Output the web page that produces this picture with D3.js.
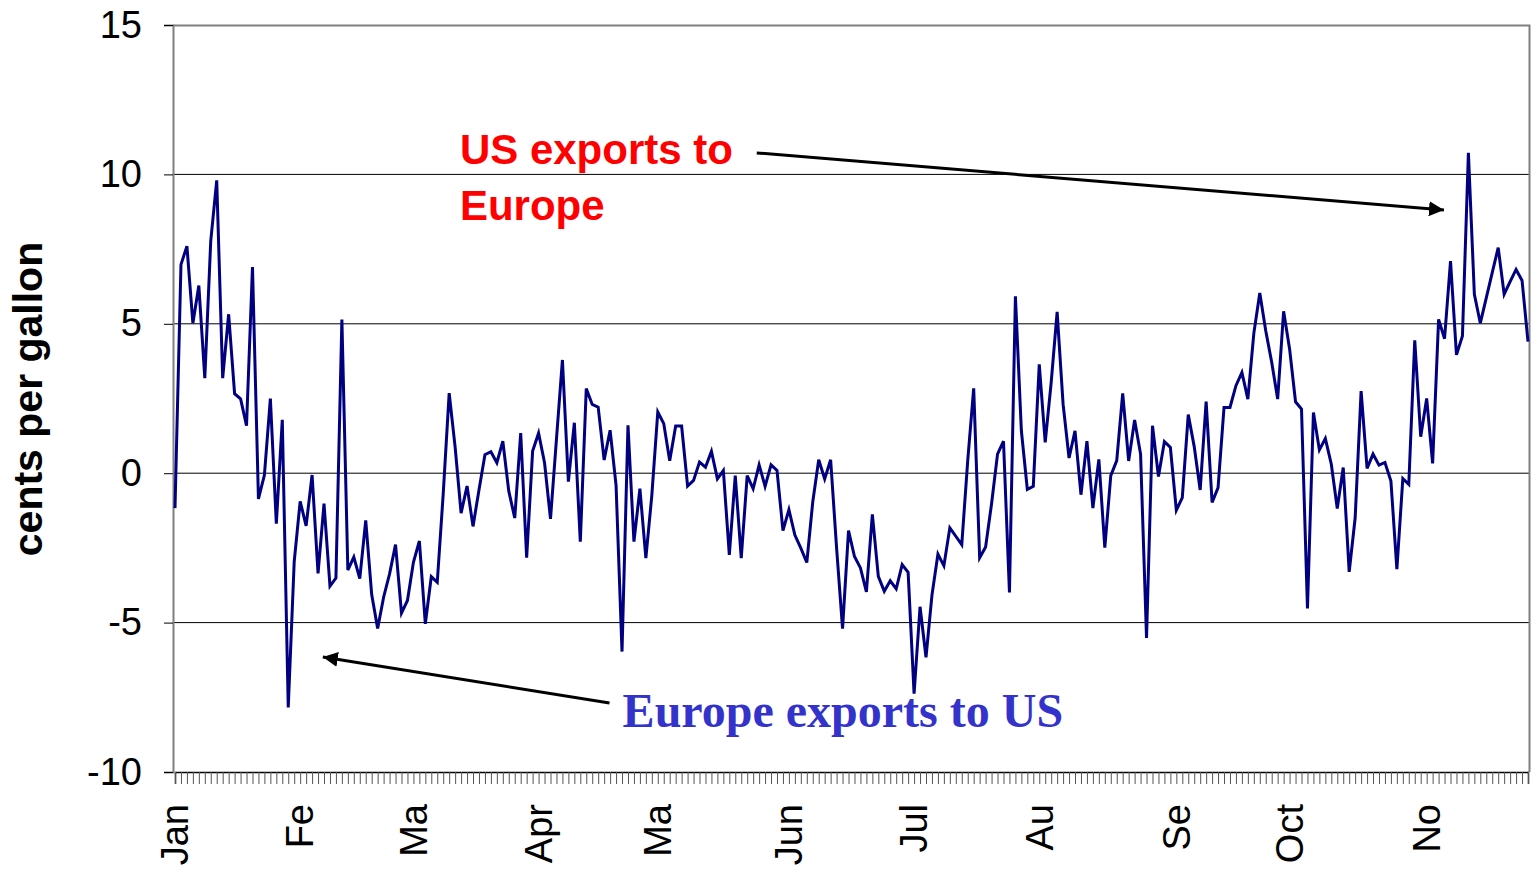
<!DOCTYPE html>
<html>
<head>
<meta charset="utf-8">
<script src="https://cdn.jsdelivr.net/npm/d3@7"></script>
<style>
  body { margin: 0; background: #fff; }
  svg { display: block; }
</style>
</head>
<body>
<div id="chart"></div>
<script>
// spread, cents per gallon, one value per trading day
var spread = [
  -1.17, 6.98, 7.6, 5.02, 6.28, 3.18, 7.78, 9.8, 3.18, 5.32,
  2.66, 2.49, 1.59, 6.9, -0.86, -0.06, 2.5, -1.69, 1.79, -7.84,
  -2.96, -0.94, -1.76, -0.06, -3.35, -1.02, -3.78, -3.51, 5.14, -3.24,
  -2.81, -3.53, -1.58, -4.06, -5.2, -4.15, -3.37, -2.39, -4.68, -4.26,
  -2.98, -2.27, -5.04, -3.46, -3.65, -0.69, 2.68, 0.87, -1.34, -0.43,
  -1.78, -0.56, 0.62, 0.72, 0.35, 1.07, -0.6, -1.5, 1.34, -2.83,
  0.74, 1.34, 0.35, -1.53, 1.14, 3.79, -0.28, 1.69, -2.29, 2.83,
  2.3, 2.21, 0.44, 1.44, -0.41, -5.97, 1.6, -2.29, -0.52, -2.84,
  -0.74, 2.05, 1.66, 0.42, 1.58, 1.58, -0.43, -0.24, 0.37, 0.2,
  0.73, -0.19, 0.09, -2.73, -0.08, -2.84, -0.08, -0.52, 0.28, -0.44,
  0.28, 0.09, -1.92, -1.22, -2.07, -2.51, -2.99, -0.96, 0.45, -0.19,
  0.45, -2.51, -5.2, -1.92, -2.79, -3.17, -3.97, -1.38, -3.45, -3.95,
  -3.6, -3.87, -3.06, -3.32, -7.38, -4.47, -6.16, -4.08, -2.71, -3.1,
  -1.83, -2.11, -2.39, 0.42, 2.84, -2.83, -2.47, -1.02, 0.64, 1.07,
  -3.99, 5.92, 1.42, -0.54, -0.44, 3.64, 1.03, 3.03, 5.4, 2.31,
  0.51, 1.42, -0.72, 1.07, -1.17, 0.46, -2.49, -0.08, 0.42, 2.67,
  0.41, 1.78, 0.64, -5.51, 1.59, -0.11, 1.06, 0.86, -1.24, -0.82,
  1.96, 0.89, -0.56, 2.4, -0.98, -0.48, 2.2, 2.2, 2.93, 3.37,
  2.48, 4.68, 6.03, 4.77, 3.71, 2.48, 5.42, 4.16, 2.39, 2.15,
  -4.53, 2.03, 0.78, 1.16, 0.3, -1.18, 0.19, -3.3, -1.5, 2.75,
  0.16, 0.64, 0.27, 0.36, -0.26, -3.21, -0.18, -0.37, 4.45, 1.22,
  2.5, 0.33, 5.15, 4.5, 7.1, 3.96, 4.59, 10.72, 5.99, 5.02,
  5.87, 6.71, 7.55, 5.99, 6.41, 6.82, 6.45, 4.4
];

// month labels and the day index where each month starts
var monthLabels = ["Jan", "Fe", "Ma", "Apr", "Ma", "Jun", "Jul", "Au", "Se", "Oct", "No"];
var monthStart = [0, 21, 40, 61, 81, 103, 124, 145, 168, 187, 210];

var yTicks = [-10, -5, 0, 5, 10, 15];

var svgWidth = 1531;
var svgHeight = 872;

var margin = { top: 25, right: 1, bottom: 100, left: 173 };
var width = svgWidth - margin.left - margin.right;
var height = svgHeight - margin.top - margin.bottom;

var svg = d3.select("#chart")
  .append("svg")
  .attr("width", svgWidth)
  .attr("height", svgHeight);

var chartGroup = svg.append("g")
  .attr("transform", `translate(${margin.left}, ${margin.top})`);

var xScale = d3.scaleLinear()
  .domain([0, spread.length - 1])
  .range([2, width - 2]);

var yScale = d3.scaleLinear()
  .domain([-10, 15])
  .range([height, 0]);

var sans = "'Liberation Sans', Arial, sans-serif";
var serif = "'Liberation Serif', 'Times New Roman', serif";

// horizontal gridlines
chartGroup.selectAll(".grid")
  .data(yTicks.filter(d => d > -10 && d < 15))
  .enter()
  .append("line")
  .attr("x1", 0)
  .attr("x2", width)
  .attr("y1", d => yScale(d))
  .attr("y2", d => yScale(d))
  .attr("stroke", "#000")
  .attr("stroke-width", 1);

// plot border (top and right)
chartGroup.append("path")
  .attr("d", `M0,0.5H${width - 0.5}V${height}`)
  .attr("fill", "none")
  .attr("stroke", "#808080")
  .attr("stroke-width", 2);

// left axis, plain hyphen for negatives
var leftAxis = d3.axisLeft(yScale)
  .tickValues(yTicks)
  .tickSize(9)
  .tickPadding(22)
  .tickFormat(d => String(d));

var yAxis = chartGroup.append("g").call(leftAxis);
yAxis.select(".domain").attr("stroke", "#808080").attr("stroke-width", 2);
yAxis.selectAll(".tick line").attr("stroke", "#000");
yAxis.selectAll("text")
  .attr("font-family", sans)
  .attr("font-size", "38px")
  .attr("fill", "#000");

// bottom axis: a small tick for every day
var bottomAxis = d3.axisBottom(xScale)
  .tickValues(d3.range(spread.length))
  .tickSize(12)
  .tickFormat("");

var xAxis = chartGroup.append("g")
  .attr("transform", `translate(0, ${height})`)
  .call(bottomAxis);
xAxis.select(".domain").attr("stroke", "#000").attr("stroke-width", 1.5);
xAxis.selectAll(".tick line").attr("stroke", "#555").attr("stroke-width", 1);

// month labels, rotated
chartGroup.selectAll(".month")
  .data(monthLabels)
  .enter()
  .append("text")
  .attr("transform", (d, i) => `translate(${xScale(monthStart[i])}, ${height + 32}) rotate(-90)`)
  .attr("dy", "0.35em")
  .attr("text-anchor", "end")
  .attr("font-family", sans)
  .attr("font-size", "38px")
  .attr("fill", "#000")
  .text(d => d);

// y axis title
svg.append("text")
  .attr("transform", `translate(42, 399) rotate(-90)`)
  .attr("text-anchor", "middle")
  .attr("font-family", sans)
  .attr("font-weight", "bold")
  .attr("font-size", "41px")
  .attr("fill", "#000")
  .text("cents per gallon");

// the spread line
var line = d3.line()
  .x((d, i) => xScale(i))
  .y(d => yScale(d));

chartGroup.append("path")
  .datum(spread)
  .attr("d", line)
  .attr("fill", "none")
  .attr("stroke", "#000080")
  .attr("stroke-width", 3)
  .attr("stroke-linejoin", "miter");

// arrows
svg.append("defs").append("marker")
  .attr("id", "head")
  .attr("viewBox", "0 0 10 10")
  .attr("refX", 10)
  .attr("refY", 5)
  .attr("markerWidth", 5)
  .attr("markerHeight", 5)
  .attr("markerUnits", "strokeWidth")
  .attr("orient", "auto")
  .append("path")
  .attr("d", "M0,0L10,5L0,10z")
  .attr("fill", "#000");

// arrow ends in data units (day index, cents)
var arrows = [
  { from: [97.6, 10.72], to: [212.9, 8.81] },
  { from: [72.9, -7.69], to: [24.8, -6.15] }
];

chartGroup.selectAll(".arrow")
  .data(arrows)
  .enter()
  .append("line")
  .attr("x1", d => xScale(d.from[0]))
  .attr("y1", d => yScale(d.from[1]))
  .attr("x2", d => xScale(d.to[0]))
  .attr("y2", d => yScale(d.to[1]))
  .attr("stroke", "#000")
  .attr("stroke-width", 3)
  .attr("marker-end", "url(#head)");

// annotations
var usLabel = chartGroup.append("text")
  .attr("x", xScale(47.8))
  .attr("y", yScale(10.35))
  .attr("font-family", sans)
  .attr("font-weight", "bold")
  .attr("font-size", "42px")
  .attr("fill", "#ff0000");
usLabel.append("tspan").text("US exports to");
usLabel.append("tspan")
  .attr("x", xScale(47.8))
  .attr("dy", 56)
  .text("Europe");

chartGroup.append("text")
  .attr("x", xScale(75.1))
  .attr("y", yScale(-8.5))
  .attr("font-family", serif)
  .attr("font-weight", "bold")
  .attr("font-size", "48px")
  .attr("fill", "#3333cc")
  .text("Europe exports to US");
</script>
</body>
</html>
